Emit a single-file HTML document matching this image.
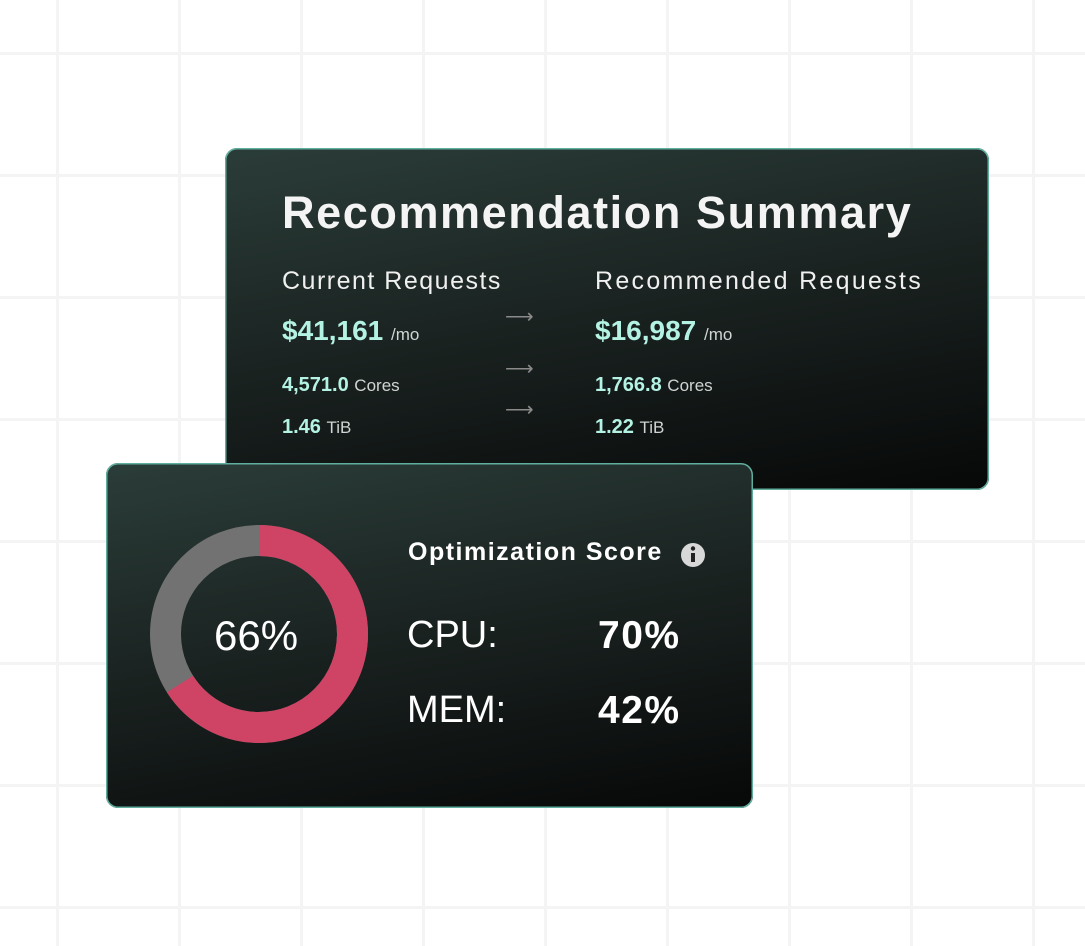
<!DOCTYPE html>
<html><head><style>
html,body{margin:0;padding:0;}
body{width:1085px;height:946px;position:relative;overflow:hidden;background:#fff;font-family:"Liberation Sans",sans-serif;
background-image:linear-gradient(90deg,transparent 56px,#f4f4f4 56px,#f4f4f4 59px,transparent 59px),linear-gradient(180deg,transparent 52px,#f4f4f4 52px,#f4f4f4 55px,transparent 55px);
background-size:122px 122px;background-position:0 0;}
.card{position:absolute;border-radius:12px;background:linear-gradient(170deg,#2b3d39 0%,#1b2422 45%,#070808 100%);
box-shadow:0 0 0 1.5px #5fae9e inset;}
.t{position:absolute;white-space:nowrap;color:#fff;}
.m{color:#b4f3e3;font-weight:bold;}
.u{color:#cfd5d3;font-weight:normal;font-size:17px;}
.arr{position:absolute;color:#8a8a8a;font-size:20px;}
</style></head><body>
<div class="card" style="left:225px;top:148px;width:764px;height:342px;"></div>
<div class="t" style="left:282px;top:187px;font-size:45px;font-weight:bold;color:#f4f4f4;letter-spacing:1.6px">Recommendation Summary</div>
<div class="t" style="left:282px;top:267px;font-size:25px;color:#f0f0f0;letter-spacing:1.5px">Current Requests</div>
<div class="t" style="left:595px;top:267px;font-size:25px;color:#f0f0f0;letter-spacing:2.3px">Recommended Requests</div>
<div class="t m" style="left:282px;top:315px;font-size:28px">$41,161 <span class="u">/mo</span></div>
<div class="t m" style="left:595px;top:315px;font-size:28px">$16,987 <span class="u">/mo</span></div>
<div class="t m" style="left:282px;top:374px;font-size:20px">4,571.0 <span class="u">Cores</span></div>
<div class="t m" style="left:595px;top:374px;font-size:20px">1,766.8 <span class="u">Cores</span></div>
<div class="t m" style="left:282px;top:416px;font-size:20px">1.46 <span class="u">TiB</span></div>
<div class="t m" style="left:595px;top:416px;font-size:20px">1.22 <span class="u">TiB</span></div>
<div class="arr" style="left:505px;top:304px">&#10230;</div>
<div class="arr" style="left:505px;top:356px">&#10230;</div>
<div class="arr" style="left:505px;top:397px">&#10230;</div>

<div class="card" style="left:106px;top:463px;width:647px;height:345px;"></div>
<svg style="position:absolute;left:0;top:0" width="1085" height="946">
<circle cx="259" cy="634" r="93.5" fill="none" stroke="#727272" stroke-width="31"/>
<circle cx="259" cy="634" r="93.5" fill="none" stroke="#cf4365" stroke-width="31" stroke-dasharray="387.7 587.5" transform="rotate(-90 259 634)"/>
<circle cx="693" cy="555" r="12" fill="#d8d8d8"/>
<rect x="691" y="553" width="4" height="9" fill="#222"/>
<circle cx="693" cy="548.5" r="2.2" fill="#222"/>
</svg>
<div class="t" style="left:214px;top:612px;font-size:42px">66%</div>
<div class="t" style="left:408px;top:538px;font-size:25px;font-weight:bold;letter-spacing:1.5px">Optimization Score</div>
<div class="t" style="left:407px;top:614px;font-size:38px">CPU:</div>
<div class="t" style="left:598px;top:614px;font-size:39px;font-weight:bold;letter-spacing:1.5px">70%</div>
<div class="t" style="left:407px;top:689px;font-size:38px">MEM:</div>
<div class="t" style="left:598px;top:689px;font-size:39px;font-weight:bold;letter-spacing:1.5px">42%</div>
</body></html>
